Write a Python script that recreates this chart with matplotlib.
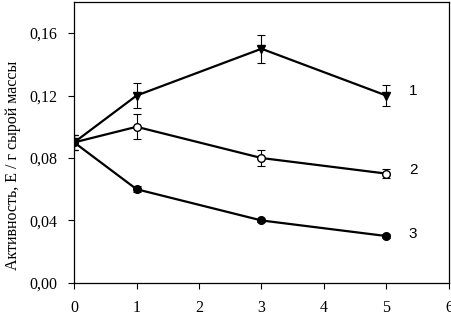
import matplotlib.pyplot as plt
from matplotlib.ticker import FuncFormatter

# data
days = [0, 1, 3, 5]
act1 = [0.090, 0.120, 0.150, 0.120]
err1 = [0.005, 0.008, 0.009, 0.007]
act2 = [0.090, 0.100, 0.080, 0.070]
err2 = [0.005, 0.008, 0.005, 0.003]
act3 = [0.090, 0.060, 0.040, 0.030]
err3 = [0.005, 0.002, 0.001, 0.001]
labels = ['1', '2', '3']
label_y = [0.123, 0.072, 0.031]

plt.rcParams['font.family'] = ['Liberation Serif', 'DejaVu Serif']

fig = plt.figure(figsize=(4.52, 3.2), dpi=100)
ax = fig.add_axes([0.164, 0.116, 0.829, 0.878])

style = dict(color='black', lw=1.6, capsize=3, elinewidth=0.8, capthick=0.8)
ax.errorbar(days, act1, yerr=err1, marker='v', ms=5.5, mfc='black', mec='black', **style)
ax.errorbar(days, act2, yerr=err2, marker='o', ms=5.5, mfc='white', mec='black', **style)
ax.errorbar(days, act3, yerr=err3, marker='o', ms=5.5, mfc='black', mec='black', **style)

for lab, y in zip(labels, label_y):
    ax.text(5.36, y, lab, fontsize=11, family=['Liberation Sans', 'DejaVu Sans'],
            ha='left', va='center')

ax.set_xlim(0, 6)
ax.set_ylim(0, 0.18)
ax.set_xticks(range(0, 7))
ax.set_yticks([0, 0.04, 0.08, 0.12, 0.16])
ax.yaxis.set_major_formatter(FuncFormatter(lambda v, p: f'{v:.2f}'.replace('.', ',')))
ax.tick_params(direction='out', length=4, width=0.8, labelsize=11.5)
ax.tick_params(axis='y', pad=8)
ax.tick_params(axis='x', pad=8)
for s in ax.spines.values():
    s.set_linewidth(0.9)

ax.set_ylabel('Активность, Е / г сырой массы', fontsize=11.5)
ax.yaxis.set_label_coords(-0.142, 0.42)

fig.savefig('out.png', dpi=100)
